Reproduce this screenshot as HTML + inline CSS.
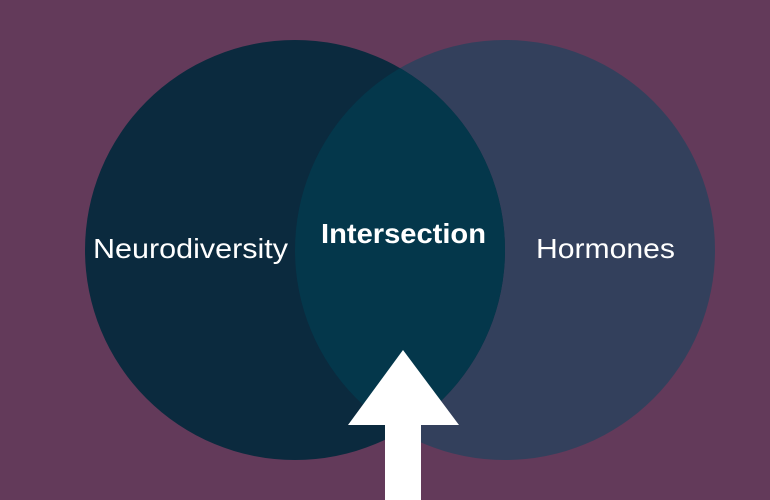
<!DOCTYPE html>
<html><head><meta charset="utf-8"><style>
html,body{margin:0;padding:0;}
body{width:770px;height:500px;background:#633a5a;overflow:hidden;}
svg{display:block}
text{font-family:"Liberation Sans",sans-serif;fill:#fff;}
</style></head><body>
<svg width="770" height="500" viewBox="0 0 770 500">
<defs>
<clipPath id="cl"><circle cx="295" cy="250" r="210"/></clipPath>
</defs>
<rect width="770" height="500" fill="#633a5a"/>
<circle cx="505" cy="250" r="210" fill="#33405c"/>
<circle cx="295" cy="250" r="210" fill="#0b2a3e"/>
<circle cx="505" cy="250" r="210" fill="#04374b" clip-path="url(#cl)"/>
<text x="93" y="258" font-size="28" textLength="195" lengthAdjust="spacingAndGlyphs">Neurodiversity</text>
<text x="321" y="243" font-size="28" font-weight="bold" textLength="165" lengthAdjust="spacingAndGlyphs">Intersection</text>
<text x="536" y="258" font-size="28" textLength="139" lengthAdjust="spacingAndGlyphs">Hormones</text>
<polygon points="403,350 459,425 348,425" fill="#fff"/>
<rect x="385" y="424" width="36" height="76" fill="#fff"/>
</svg>
</body></html>
